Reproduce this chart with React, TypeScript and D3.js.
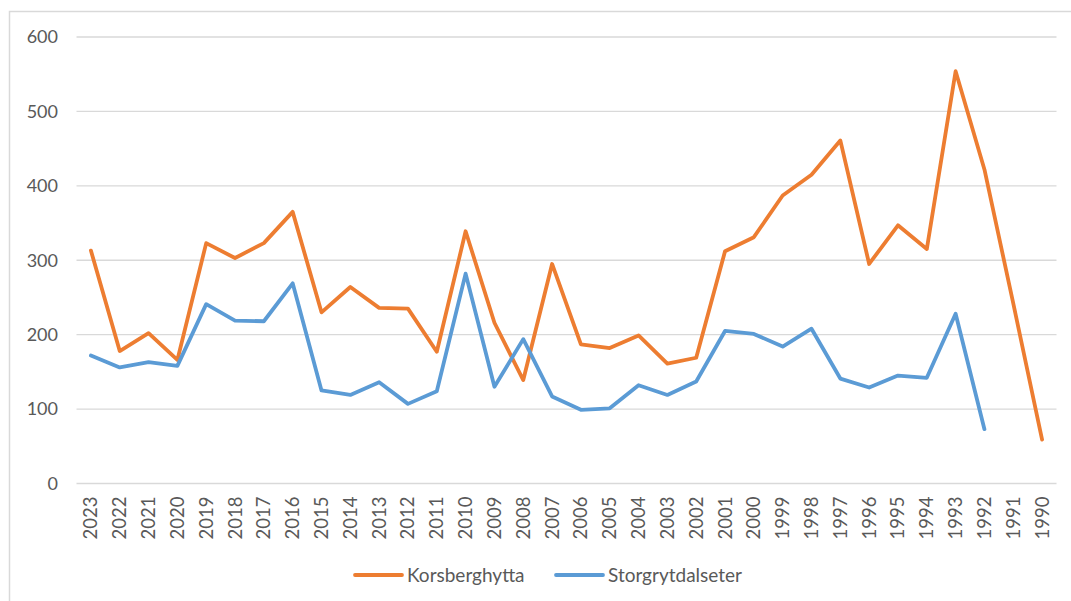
import { useEffect, useRef } from 'react';
import * as d3 from 'd3';

const years = [
  '2023', '2022', '2021', '2020', '2019', '2018', '2017', '2016', '2015', '2014',
  '2013', '2012', '2011', '2010', '2009', '2008', '2007', '2006', '2005', '2004',
  '2003', '2002', '2001', '2000', '1999', '1998', '1997', '1996', '1995', '1994',
  '1993', '1992', '1991', '1990',
];

const korsberghytta: (number | null)[] = [
  313, 178, 202, 166, 323, 303, 323, 365, 230, 264,
  236, 235, 177, 339, 216, 139, 295, 187, 182, 199,
  161, 169, 312, 331, 387, 415, 461, 295, 347, 315,
  554, 422, 242, 59,
];

const storgrytdalseter: (number | null)[] = [
  172, 156, 163, 158, 241, 219, 218, 269, 125, 119,
  136, 107, 124, 282, 130, 194, 117, 99, 101, 132,
  119, 137, 205, 201, 184, 208, 141, 129, 145, 142,
  228, 73, null, null,
];

const yTicks = [0, 100, 200, 300, 400, 500, 600];

const series = [
  { name: 'Korsberghytta', values: korsberghytta, color: '#ED7D31' },
  { name: 'Storgrytdalseter', values: storgrytdalseter, color: '#5B9BD5' },
];

const width = 1071;
const height = 601;
const font = 'Lato, "Open Sans", sans-serif';
const textColor = '#595959';

export default function App() {
  const svgRef = useRef<SVGSVGElement>(null);

  useEffect(() => {
    if (!svgRef.current) return;
    const svg = d3.select(svgRef.current);
    svg.selectAll('*').remove();

    const margin = { top: 37, right: 14.5, bottom: 117.5, left: 76.5 };
    const innerWidth = width - margin.left - margin.right;
    const innerHeight = height - margin.top - margin.bottom;

    // chart border
    svg.append('rect')
      .attr('x', 9.5)
      .attr('y', 11.5)
      .attr('width', 1200)
      .attr('height', 800)
      .attr('fill', 'white')
      .attr('stroke', '#D9D9D9')
      .attr('stroke-width', 1.5);

    const g = svg.append('g').attr('transform', `translate(${margin.left},${margin.top})`);

    const x = d3.scaleBand<string>().domain(years).range([0, innerWidth]);
    const y = d3.scaleLinear().domain([0, 600]).range([innerHeight, 0]);
    const cx = (d: string) => (x(d) ?? 0) + x.bandwidth() / 2;

    // grid lines
    g.append('g')
      .selectAll('line')
      .data(yTicks)
      .join('line')
      .attr('x1', 0)
      .attr('x2', innerWidth)
      .attr('y1', (d) => y(d))
      .attr('y2', (d) => y(d))
      .attr('stroke', '#D9D9D9')
      .attr('stroke-width', 1.3);

    // y tick labels
    g.append('g')
      .selectAll('text')
      .data(yTicks)
      .join('text')
      .attr('x', -18.5)
      .attr('y', (d) => y(d))
      .attr('dy', '0.35em')
      .attr('text-anchor', 'end')
      .attr('fill', textColor)
      .attr('font-family', font)
      .attr('font-size', 18)
      .text((d) => d);

    // x tick labels
    g.append('g')
      .selectAll('text')
      .data(years)
      .join('text')
      .attr('transform', (d) => `translate(${cx(d)},${innerHeight + 13}) rotate(-90)`)
      .attr('dy', '0.35em')
      .attr('text-anchor', 'end')
      .attr('fill', textColor)
      .attr('font-family', font)
      .attr('font-size', 18.5)
      .text((d) => d);

    // lines
    series.forEach((s) => {
      const line = d3
        .line<number | null>()
        .defined((d) => d !== null)
        .x((_, i) => cx(years[i]))
        .y((d) => y(d as number));

      g.append('path')
        .datum(s.values)
        .attr('fill', 'none')
        .attr('stroke', s.color)
        .attr('stroke-width', 3.8)
        .attr('stroke-linejoin', 'round')
        .attr('stroke-linecap', 'round')
        .attr('d', line);
    });

    // legend
    const legendX = [355, 556];
    series.forEach((s, i) => {
      const lg = svg.append('g').attr('transform', `translate(${legendX[i]},575)`);
      lg.append('line')
        .attr('x1', 0)
        .attr('x2', 47)
        .attr('stroke', s.color)
        .attr('stroke-width', 3.8)
        .attr('stroke-linecap', 'round');
      lg.append('text')
        .attr('x', 52)
        .attr('dy', '0.35em')
        .attr('fill', textColor)
        .attr('font-family', font)
        .attr('font-size', 19)
        .text(s.name);
    });
  }, []);

  return (
    <svg
      ref={svgRef}
      width={width}
      height={height}
      style={{ position: 'absolute', left: 0, top: 0, display: 'block' }}
    />
  );
}
